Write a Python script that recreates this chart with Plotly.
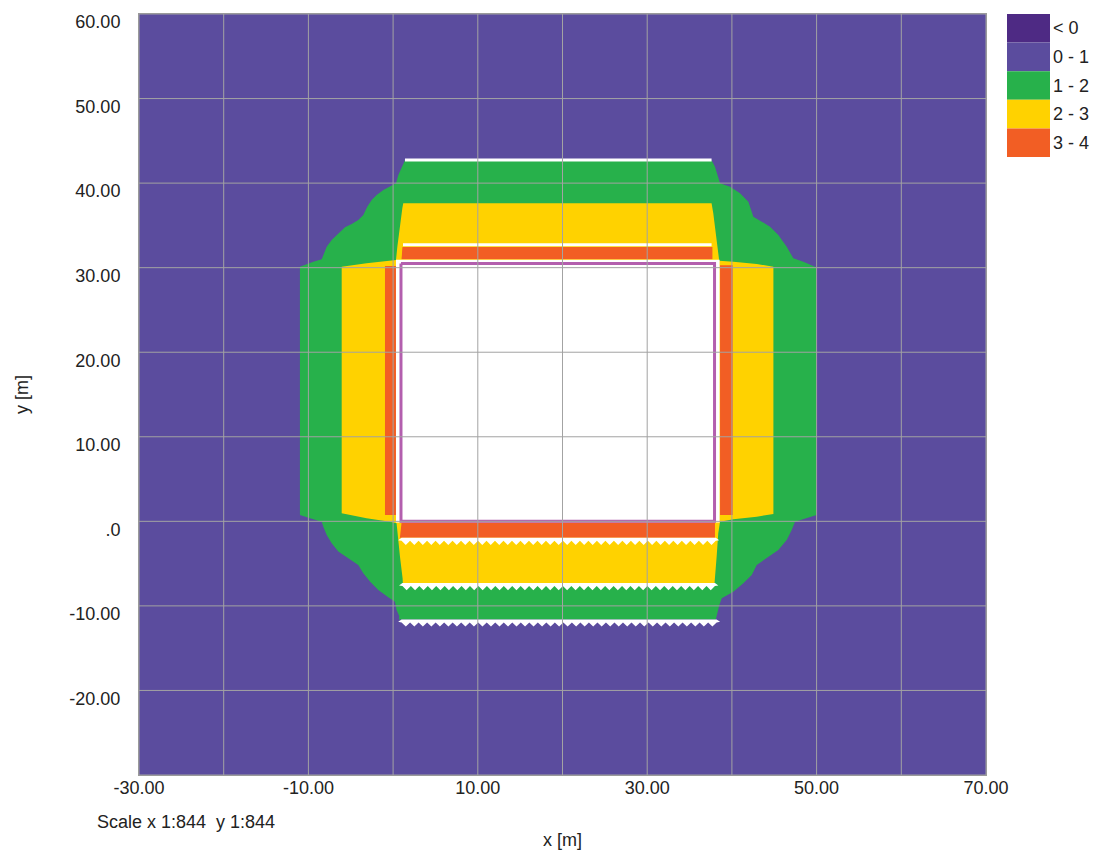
import numpy as np
import plotly.graph_objects as go

# ---------------- data ----------------
x_tick_vals = [-30, -20, -10, 0, 10, 20, 30, 40, 50, 60, 70]
x_tick_text = ["-30.00", "", "-10.00", "", "10.00", "", "30.00", "", "50.00", "", "70.00"]
y_tick_vals = [-30, -20, -10, 0, 10, 20, 30, 40, 50, 60]
y_tick_text = ["", "-20.00", "-10.00", ".0", "10.00", "20.00", "30.00", "40.00", "50.00", "60.00"]

legend_labels = ["< 0", "0 - 1", "1 - 2", "2 - 3", "3 - 4"]
legend_colors = ["#4E2A84", "#5B4C9E", "#27B14B", "#FFD200", "#F25E24"]

# band 1 - 2 outer boundary
green_x = [1.40, 37.6, 38.0, 38.39, 38.6, 39.78, 40.96, 41.94, 42.53, 43.52, 44.5, 45.48, 46.47, 47.25, 48.43, 49.81, 50.0,
           50.0, 48.43, 47.45, 47.06, 46.47, 45.48, 44.3, 42.93, 42.34, 41.35, 40.17, 38.8, 38.52, 38.2, 38.1,
           0.7, 0.73, 0.41, 0.22, -0.57, -1.75, -2.73, -3.52, -4.11, -5.29, -6.47, -7.25, -7.84, -8.24, -8.43, -9.81, -11.0,
           -11.0, -10.2, -9.42, -8.43, -8.24, -7.84, -7.25, -6.47, -5.68, -4.89, -4.11, -3.52, -3.05, -2.53, -1.94, -1.15, -0.37, 0.34, 0.62, 1.01]
green_y = [42.7, 42.7, 41.94, 40.76, 39.98, 39.58, 38.79, 37.8, 36.03, 35.44, 34.85, 33.86, 32.48, 31.11, 30.71, 30.12, 30.0,
           0.75, 0.24, -0.04, -1.02, -2.2, -3.39, -4.17, -5.16, -6.34, -7.32, -8.32, -9.1, -9.89, -11.2, -11.6,
           -11.6, -11.2, -10.48, -9.5, -8.98, -8.12, -7.13, -6.14, -5.16, -4.37, -3.58, -2.59, -1.61, -0.63, -0.04, 0.36, 0.75,
           30.12, 30.44, 30.71, 30.99, 31.5, 32.48, 33.27, 34.07, 34.78, 35.17, 35.64, 36.23, 37.21, 38.0, 38.6, 39.19, 39.58, 39.98, 40.96, 41.94]

# band 2 - 3 outer boundary
yellow_x = [1.2, 37.6, 37.8, 38.1, 38.4, 38.5, 40.17, 42.93, 44.9, 44.9, 42.93, 40.17, 38.6, 38.39, 38.2, 38.0, 37.95,
            1.15, 1.12, 0.81, 0.62, 0.41, -0.37, -3.13, -6.07, -6.07, -3.13, -0.37, 0.34, 0.5, 0.81, 1.09]
yellow_y = [37.61, 37.61, 36.43, 34.07, 32.1, 30.83, 30.71, 30.44, 30.12, 0.87, 0.55, 0.24, -0.04, -1.42, -4.17, -6.93, -7.3,
            -7.3, -6.73, -4.17, -2.2, -0.23, -0.04, 0.36, 0.95, 30.12, 30.52, 30.83, 30.9, 32.48, 35.25, 37.02]

# band 3 - 4 pieces
orange_top_x = [1.1, 37.7, 37.7, 1.0]
orange_top_y = [32.45, 32.45, 31.0, 31.0]
orange_left_x = [-0.96, 0.4, 0.4, -0.96]
orange_left_y = [30.2, 30.2, 0.75, 0.75]
orange_right_x = [38.6, 40.1, 40.1, 38.6]
orange_right_y = [30.3, 30.3, 0.75, 0.75]
orange_bottom_x = [1.0, 38.0, 38.0, 0.8]
orange_bottom_y = [-0.15, -0.15, -1.95, -1.95]

# building
building_fill_x = [0.34, 38.55, 38.55, 0.34]
building_fill_y = [30.95, 30.95, -0.15, -0.15]
building_x = [0.93, 37.95, 37.95, 0.93, 0.93]
building_y = [30.5, 30.5, 0.0, 0.0, 30.5]

# walls (solid white lines)
wall_y = [42.73, 32.7]
wall_x0 = [1.4, 1.17]
wall_x1 = [37.6, 37.6]

# barriers (white zig-zag lines)
barrier_y = [-1.95, -7.3, -11.6]
barrier_x0 = [1.0, 1.1, 1.0]
barrier_x1 = [38.1, 38.0, 38.2]

# ---------------- figure ----------------
FONT = "Liberation Sans, Arial, sans-serif"
TXT = "#222222"
GRID = "#A3A3A3"
FS = 18
fig = go.Figure()

def poly(xs, ys, color):
    fig.add_trace(go.Scatter(x=list(xs) + [xs[0]], y=list(ys) + [ys[0]], mode="lines",
                             fill="toself", fillcolor=color, line=dict(width=0, color=color),
                             hoverinfo="skip", showlegend=False))

poly(green_x, green_y, legend_colors[2])
poly(yellow_x, yellow_y, legend_colors[3])
for ox, oy in [(orange_top_x, orange_top_y), (orange_left_x, orange_left_y),
               (orange_right_x, orange_right_y), (orange_bottom_x, orange_bottom_y)]:
    poly(ox, oy, legend_colors[4])
poly(building_fill_x, building_fill_y, "white")
fig.add_trace(go.Scatter(x=building_x, y=building_y, mode="lines",
                         line=dict(color="#B35FAE", width=3), hoverinfo="skip", showlegend=False))

for y, a, b in zip(wall_y, wall_x0, wall_x1):
    fig.add_trace(go.Scatter(x=[a, b], y=[y, y], mode="lines", line=dict(color="white", width=3),
                             hoverinfo="skip", showlegend=False))

# zig-zag barrier shapes
band, tooth, period = 0.35, 0.5, 1.0
for y0, a, b in zip(barrier_y, barrier_x0, barrier_x1):
    n = int(round((b - a) / (period / 2)))
    xs_t = np.linspace(b, a, n + 1)
    ys_t = [y0 - band - (tooth if i % 2 else 0) for i in range(n + 1)]
    px = [a, b, b + 0.4] + list(xs_t) + [a - 0.4]
    py = [y0, y0, y0 - band / 2 - 0.1] + ys_t + [y0 - band / 2 - 0.1]
    poly(px, py, "white")

# grid lines on top of the fill
for v in x_tick_vals:
    fig.add_shape(type="line", xref="x", yref="paper", x0=v, x1=v, y0=0, y1=1,
                  line=dict(color=GRID, width=1), layer="above")
for v in y_tick_vals:
    fig.add_shape(type="line", xref="paper", yref="y", x0=0, x1=1, y0=v, y1=v,
                  line=dict(color=GRID, width=1), layer="above")

# page geometry
W, H = 1094, 853
PL, PR, PT, PB = 139, 986, 14, 775          # plot area in pixels
def pxx(p): return (p - PL) / (PR - PL)
def pxy(p): return (PB - p) / (PB - PT)

box_h = 28.6
for i, (lab, col) in enumerate(zip(legend_labels, legend_colors)):
    top = 14 + i * box_h
    fig.add_shape(type="rect", xref="paper", yref="paper", x0=pxx(1007), x1=pxx(1050),
                  y0=pxy(top + box_h), y1=pxy(top), fillcolor=col, line=dict(width=0), layer="above")
    fig.add_annotation(xref="paper", yref="paper", x=pxx(1051), y=pxy(top + box_h / 2),
                       text=lab, showarrow=False, xanchor="left", yanchor="middle",
                       font=dict(family=FONT, size=FS, color=TXT))

fig.add_annotation(xref="paper", yref="paper", x=pxx(562), y=pxy(840), text="x [m]", showarrow=False,
                   xanchor="center", yanchor="middle", font=dict(family=FONT, size=FS, color=TXT))
fig.add_annotation(xref="paper", yref="paper", x=pxx(22), y=pxy(395), text="y [m]", showarrow=False,
                   textangle=-90, xanchor="center", yanchor="middle", font=dict(family=FONT, size=FS, color=TXT))
fig.add_annotation(xref="paper", yref="paper", x=pxx(95), y=pxy(822), text="Scale x 1:844  y 1:844",
                   showarrow=False, xanchor="left", yanchor="middle", font=dict(family=FONT, size=FS, color=TXT))

fig.update_layout(
    width=W, height=H, margin=dict(l=PL, r=W - PR, t=PT, b=H - PB),
    paper_bgcolor="white", plot_bgcolor=legend_colors[1],
    font=dict(family=FONT, size=FS, color=TXT),
    showlegend=False,
    xaxis=dict(range=[-30, 70], tickvals=x_tick_vals, ticktext=x_tick_text, showgrid=False,
               zeroline=False, showline=True, mirror=True, linecolor="#9A9A9A", linewidth=1,
               ticks="", ticklabelstandoff=-4, fixedrange=True),
    yaxis=dict(range=[-30, 60], tickvals=y_tick_vals, ticktext=y_tick_text, showgrid=False,
               zeroline=False, showline=True, mirror=True, linecolor="#9A9A9A", linewidth=1,
               ticks="", ticklabelstandoff=14, ticklabelshift=8, fixedrange=True),
)

fig.write_html("out.html", config={"displayModeBar": False},
               post_script="document.body.style.margin='0';document.body.style.overflow='hidden';")
